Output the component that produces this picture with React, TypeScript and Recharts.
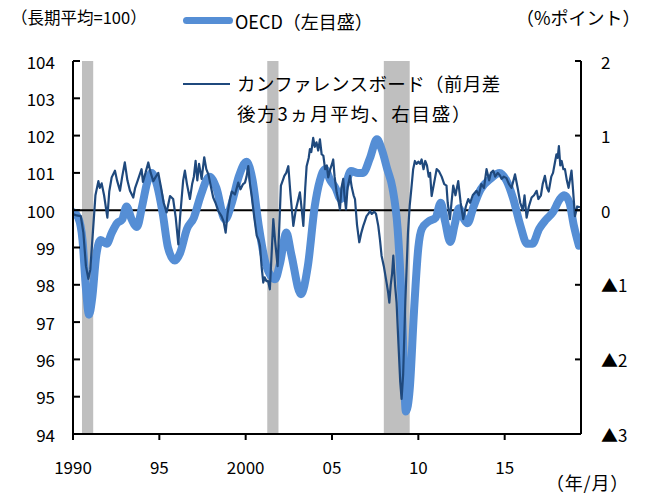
import { LineChart, Line, XAxis, YAxis, ReferenceArea, ReferenceLine } from "recharts";

// OECD leading indicator (long-term average = 100), left axis
const oecdDates = [
  1990.0, 1990.3, 1990.55, 1990.75, 1990.93, 1991.1, 1991.35, 1991.6, 1991.95, 1992.25,
  1992.55, 1992.85, 1993.1, 1993.4, 1993.7, 1994.0, 1994.3, 1994.55, 1994.85, 1995.2,
  1995.5, 1995.9, 1996.2, 1996.6, 1997.0, 1997.4, 1997.9, 1998.3, 1998.8, 1999.2,
  1999.6, 2000.05, 2000.4, 2000.75, 2001.2, 2001.7, 2002.0, 2002.35, 2002.65, 2003.2,
  2003.6, 2004.0, 2004.3, 2004.6, 2004.9, 2005.2, 2005.5, 2005.8, 2006.1, 2006.5,
  2006.8, 2007.2, 2007.6, 2007.9, 2008.2, 2008.5, 2008.8, 2009.05, 2009.28, 2009.5,
  2009.75, 2010.0, 2010.2, 2010.6, 2011.0, 2011.3, 2011.55, 2011.85, 2012.1, 2012.35,
  2012.6, 2012.85, 2013.2, 2013.6, 2014.2, 2014.7, 2015.1, 2015.5, 2015.9, 2016.3,
  2016.6, 2017.0, 2017.4, 2017.8, 2018.2, 2018.45, 2018.75, 2019.0, 2019.3,
];
const oecdValues = [
  99.95, 99.8, 99.2, 97.9, 97.2, 97.6, 98.8, 99.2, 99.1, 99.4,
  99.65, 99.75, 100.1, 99.75, 99.55, 100.1, 100.75, 101.0, 100.7, 99.9,
  99.0, 98.65, 98.85, 99.5, 99.8, 100.4, 100.9, 100.6, 99.75, 100.2,
  100.9, 101.3, 100.8, 99.6, 98.5, 98.15, 98.6, 99.4, 98.8, 97.75,
  98.5, 100.1, 100.8, 101.1, 100.8, 100.6, 100.3, 100.7, 101.05, 101.0,
  101.0, 101.4, 101.9, 101.6, 101.1, 100.6, 99.5, 97.4, 94.6, 95.2,
  97.3, 99.0, 99.5, 99.7, 99.8, 100.2, 99.7, 99.15, 99.6, 100.05,
  99.8, 99.65, 100.1, 100.55, 100.85, 101.0, 100.8, 100.3, 99.6, 99.1,
  99.1, 99.5, 99.75, 99.95, 100.3, 100.4, 100.2, 99.6, 99.05,
];

// Conference Board LEI, m/m change, trailing 3-month average (right axis)
const cbDates = [
  1990.0, 1990.2, 1990.45, 1990.6, 1990.75, 1990.89, 1991.0, 1991.15, 1991.3, 1991.47,
  1991.55, 1991.66, 1991.8, 1991.99, 1992.1, 1992.24, 1992.43, 1992.55, 1992.72, 1992.85,
  1993.0, 1993.15, 1993.3, 1993.49, 1993.6, 1993.75, 1993.97, 1994.05, 1994.2, 1994.36,
  1994.5, 1994.65, 1994.8, 1994.94, 1995.1, 1995.25, 1995.42, 1995.62, 1995.8, 1995.95,
  1996.1, 1996.2, 1996.29, 1996.38, 1996.48, 1996.6, 1996.77, 1996.9, 1997.0, 1997.1,
  1997.2, 1997.3, 1997.45, 1997.6, 1997.72, 1997.84, 1998.0, 1998.12, 1998.25, 1998.41,
  1998.6, 1998.72, 1998.84, 1998.95, 1999.09, 1999.2, 1999.38, 1999.57, 1999.7, 1999.85,
  1999.96, 2000.05, 2000.15, 2000.25, 2000.35, 2000.5, 2000.64, 2000.75, 2000.83, 2000.92,
  2001.02, 2001.1, 2001.2, 2001.3, 2001.4, 2001.5, 2001.6, 2001.7, 2001.85, 2001.95,
  2002.04, 2002.15, 2002.24, 2002.35, 2002.47, 2002.6, 2002.76, 2002.9, 2003.0, 2003.14,
  2003.25, 2003.34, 2003.45, 2003.53, 2003.65, 2003.72, 2003.8, 2003.91, 2004.0, 2004.1,
  2004.2, 2004.3, 2004.4, 2004.5, 2004.6, 2004.7, 2004.78, 2004.9, 2005.0, 2005.07,
  2005.15, 2005.27, 2005.35, 2005.46, 2005.55, 2005.65, 2005.72, 2005.81, 2005.9, 2006.04,
  2006.15, 2006.25, 2006.33, 2006.45, 2006.58, 2006.7, 2006.81, 2006.9, 2007.0, 2007.1,
  2007.2, 2007.3, 2007.45, 2007.55, 2007.68, 2007.78, 2007.87, 2008.0, 2008.16, 2008.25,
  2008.32, 2008.4, 2008.48, 2008.55, 2008.65, 2008.74, 2008.85, 2008.95, 2009.03, 2009.12,
  2009.25, 2009.4, 2009.5, 2009.6, 2009.7, 2009.8, 2009.9, 2010.0, 2010.1, 2010.19,
  2010.3, 2010.4, 2010.5, 2010.6, 2010.68, 2010.77, 2010.9, 2011.06, 2011.2, 2011.35,
  2011.5, 2011.63, 2011.7, 2011.83, 2011.92, 2012.02, 2012.15, 2012.31, 2012.45, 2012.6,
  2012.75, 2012.89, 2013.0, 2013.15, 2013.37, 2013.5, 2013.65, 2013.8, 2013.95, 2014.1,
  2014.2, 2014.34, 2014.45, 2014.6, 2014.72, 2014.82, 2014.95, 2015.1, 2015.25, 2015.4,
  2015.6, 2015.75, 2015.9, 2016.05, 2016.15, 2016.27, 2016.4, 2016.56, 2016.7, 2016.85,
  2016.95, 2017.1, 2017.2, 2017.33, 2017.45, 2017.55, 2017.7, 2017.8, 2017.91, 2018.0,
  2018.07, 2018.14, 2018.22, 2018.3, 2018.4, 2018.49, 2018.6, 2018.7, 2018.87, 2018.95,
  2019.07, 2019.2, 2019.36,
];
const cbValues = [
  -0.05, -0.07, -0.08, -0.3, -0.75, -0.92, -0.8, -0.3, 0.2, 0.39,
  0.3, 0.36, 0.2, -0.1, 0.25, 0.44, 0.53, 0.4, 0.26, 0.45,
  0.64, 0.4, 0.26, 0.17, 0.3, 0.4, 0.55, 0.38, 0.5, 0.64,
  0.5, 0.39, 0.45, 0.5, 0.3, 0.1, -0.03, 0.19, 0.15, -0.1,
  -0.46, -0.1, 0.15, 0.4, 0.53, 0.35, 0.15, 0.35, 0.45, 0.66,
  0.4, 0.62, 0.42, 0.71, 0.55, 0.48, 0.3, 0.17, 0.1, -0.01,
  -0.08, -0.15, -0.3, -0.05, 0.15, 0.25, 0.21, 0.37, 0.28, 0.35,
  0.37, 0.45, 0.59, 0.35, 0.19, -0.1, -0.34, -0.4, -0.48, -0.75,
  -0.97, -0.9, -0.95, -0.95, -1.06, -0.6, -0.12, -0.4, -0.75, -0.2,
  0.33, 0.4, 0.46, 0.5, 0.59, 0.2, -0.21, 0.0, 0.1, 0.24,
  0.0, -0.21, 0.3, 0.59, 0.7, 0.82, 0.78, 0.97, 0.85, 0.91,
  0.8, 0.95, 0.75, 0.73, 0.55, 0.6, 0.44, 0.55, 0.62, 0.68,
  0.45, 0.24, 0.15, 0.01, 0.3, 0.42, 0.2, 0.01, 0.3, 0.46,
  0.3, 0.2, 0.15, -0.2, -0.43, -0.3, -0.21, -0.15, -0.08, -0.05,
  -0.01, -0.05, -0.02, -0.05, -0.21, -0.4, -0.61, -0.75, -0.97, -1.1,
  -1.24, -1.0, -0.85, -0.61, -1.0, -1.24, -1.8, -2.3, -2.53, -2.2,
  -1.2, -0.3, 0.06, 0.3, 0.55, 0.66, 0.62, 0.65, 0.62, 0.68,
  0.55, 0.66, 0.6, 0.45, 0.5, 0.19, 0.35, 0.55, 0.52, 0.45,
  0.35, 0.33, 0.1, -0.12, 0.1, 0.33, 0.2, 0.39, 0.1, -0.12,
  0.05, 0.15, 0.1, 0.2, 0.26, 0.2, 0.35, 0.3, 0.55, 0.4,
  0.5, 0.53, 0.45, 0.5, 0.47, 0.42, 0.45, 0.43, 0.35, 0.3,
  0.48, 0.3, 0.1, 0.0, 0.2, -0.1, 0.05, 0.17, 0.2, 0.26,
  0.15, 0.2, 0.35, 0.46, 0.3, 0.25, 0.45, 0.5, 0.64, 0.75,
  0.7, 0.86, 0.6, 0.66, 0.55, 0.55, 0.4, 0.3, 0.53, 0.3,
  -0.08, 0.05, 0.04,
];

// US recessions (shaded)
const recessionStarts = [1990.52, 2001.25, 2008.0];
const recessionEnds = [1991.17, 2001.9, 2009.5];

const xTicks = [1990, 1995, 2000, 2005, 2010, 2015];
const xTickLabels = ["1990", "95", "2000", "05", "10", "15"];
const leftTicks = [94, 95, 96, 97, 98, 99, 100, 101, 102, 103, 104];
const rightTicks = [-3, -2, -1, 0, 1, 2];
const rightTickLabels = ["▲3", "▲2", "▲1", "0", "1", "2"];

const FONT = '"Noto Sans CJK JP", "Noto Sans", sans-serif';
const PLOT_LEFT = 73;
const PLOT_RIGHT = 581;
const PLOT_BOTTOM = 434;
const OECD_COLOR = "#558ED5";
const CB_COLOR = "#1F497D";

const oecdData = oecdDates.map((x, i) => ({ x, v: oecdValues[i] }));
const cbData = cbDates.map((x, i) => ({ x, v: cbValues[i] }));

function LeftTick({ y, payload }: any) {
  return (
    <g>
      <line x1={PLOT_LEFT} x2={PLOT_LEFT + 7} y1={y} y2={y} stroke="#000" strokeWidth={2} />
      <text x={55} y={y} textAnchor="end" dominantBaseline="central" fontSize={17} fill="#000" fontFamily={FONT}>
        {payload.value}
      </text>
    </g>
  );
}

function RightTick({ y, payload }: any) {
  const idx = rightTicks.indexOf(payload.value);
  return (
    <g>
      <line x1={PLOT_RIGHT - 6} x2={PLOT_RIGHT} y1={y} y2={y} stroke="#000" strokeWidth={2} />
      <text x={601} y={y} textAnchor="start" dominantBaseline="central" fontSize={17} fill="#000" fontFamily={FONT}>
        {rightTickLabels[idx]}
      </text>
    </g>
  );
}

function BottomTick({ x, payload }: any) {
  const idx = xTicks.indexOf(payload.value);
  return (
    <g>
      <line x1={x} x2={x} y1={PLOT_BOTTOM} y2={PLOT_BOTTOM + 6} stroke="#000" strokeWidth={2} />
      <text x={x} y={466} textAnchor="middle" dominantBaseline="central" fontSize={17} fill="#000" fontFamily={FONT}>
        {xTickLabels[idx]}
      </text>
    </g>
  );
}

const label = (left: number, top: number, size: number, spacing = 0): React.CSSProperties => ({
  position: "absolute",
  left,
  top,
  fontSize: size,
  lineHeight: `${size + 4}px`,
  letterSpacing: spacing,
  whiteSpace: "nowrap",
  color: "#000",
});

export default function App() {
  return (
    <div style={{ position: "absolute", left: 0, top: 0, width: 650, height: 494, background: "#fff", fontFamily: FONT }}>
      <LineChart width={650} height={494} margin={{ top: 61, right: 9, bottom: 30, left: 13 }}>
        <XAxis
          dataKey="x"
          type="number"
          domain={[1990, 2019.42]}
          allowDataOverflow
          ticks={xTicks}
          tick={<BottomTick />}
          tickLine={false}
          height={30}
          axisLine={{ stroke: "#000", strokeWidth: 2 }}
        />
        <YAxis
          yAxisId="l"
          orientation="left"
          domain={[94, 104]}
          ticks={leftTicks}
          width={60}
          tick={<LeftTick />}
          tickLine={false}
          axisLine={{ stroke: "#000", strokeWidth: 2 }}
        />
        <YAxis
          yAxisId="r"
          orientation="right"
          domain={[-3, 2]}
          ticks={rightTicks}
          width={60}
          tick={<RightTick />}
          tickLine={false}
          axisLine={{ stroke: "#000", strokeWidth: 2 }}
        />
        {recessionStarts.map((s, i) => (
          <ReferenceArea
            key={`rec-${i}`}
            yAxisId="l"
            x1={s}
            x2={recessionEnds[i]}
            y1={94}
            y2={104}
            fill="#BFBFBF"
            fillOpacity={1}
            stroke="none"
          />
        ))}
        <ReferenceLine yAxisId="l" y={100} stroke="#000" strokeWidth={2} />
        <Line
          data={oecdData}
          dataKey="v"
          yAxisId="l"
          type="monotone"
          stroke={OECD_COLOR}
          strokeWidth={8}
          strokeLinecap="round"
          strokeLinejoin="round"
          dot={false}
          activeDot={false}
          isAnimationActive={false}
        />
        <Line
          data={cbData}
          dataKey="v"
          yAxisId="r"
          type="linear"
          stroke={CB_COLOR}
          strokeWidth={2.2}
          strokeLinejoin="round"
          dot={false}
          activeDot={false}
          isAnimationActive={false}
        />
      </LineChart>

      <div style={label(11, 7, 16.5)}>（長期平均=100）</div>
      <div style={{ position: "absolute", left: 183, top: 17, width: 50, height: 7, borderRadius: 4, background: OECD_COLOR }} />
      <div style={label(235, 10, 18)}>OECD（左目盛）</div>
      <div style={label(516, 6, 18)}>（%ポイント）</div>

      <div style={{ position: "absolute", left: 183, top: 83, width: 47, height: 2, background: CB_COLOR }} />
      <div style={label(237, 72, 18.5, 0.4)}>カンファレンスボード（前月差</div>
      <div style={label(237, 102, 18.5, 1.8)}>後方3ヵ月平均、右目盛）</div>

      <div style={label(546, 471, 18, 0.8)}>（年/月）</div>
    </div>
  );
}
